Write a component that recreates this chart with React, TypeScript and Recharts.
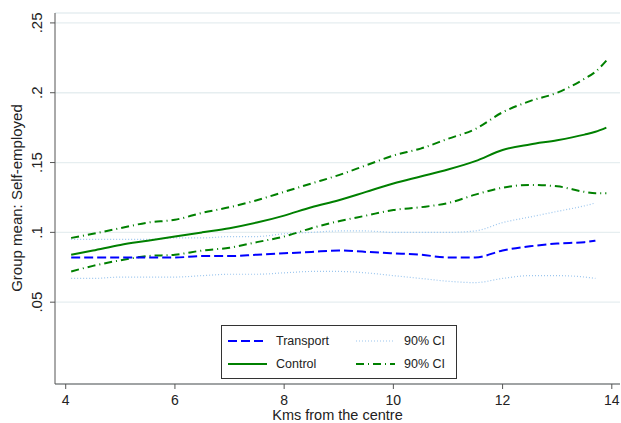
import React from 'react';
import { LineChart, Line, XAxis, YAxis, CartesianGrid, Label } from 'recharts';

// distance from centre (km) at which the smoothed means were read
const KMS = [4.1, 4.5, 5, 5.5, 6, 6.5, 7, 7.5, 8, 8.5, 9, 9.5, 10, 10.5, 11, 11.5, 12, 12.5, 13, 13.5, 13.7, 13.9];

const TRANSPORT = [0.082, 0.082, 0.082, 0.082, 0.082, 0.083, 0.083, 0.084, 0.085, 0.086, 0.087, 0.086, 0.085, 0.084, 0.082, 0.082, 0.087, 0.09, 0.092, 0.093, 0.094, null];
const TRANSPORT_HI = [0.095, 0.095, 0.095, 0.095, 0.096, 0.096, 0.097, 0.097, 0.099, 0.1, 0.101, 0.101, 0.1, 0.1, 0.1, 0.101, 0.107, 0.111, 0.115, 0.119, 0.121, null];
const TRANSPORT_LO = [0.067, 0.067, 0.068, 0.068, 0.068, 0.069, 0.07, 0.07, 0.071, 0.072, 0.072, 0.071, 0.069, 0.067, 0.065, 0.064, 0.067, 0.069, 0.069, 0.068, 0.067, null];

const CONTROL = [0.084, 0.087, 0.091, 0.094, 0.097, 0.1, 0.103, 0.107, 0.112, 0.118, 0.123, 0.129, 0.135, 0.14, 0.145, 0.151, 0.159, 0.163, 0.166, 0.17, 0.172, 0.175];
const CONTROL_HI = [0.096, 0.099, 0.103, 0.107, 0.109, 0.114, 0.118, 0.123, 0.129, 0.135, 0.141, 0.148, 0.155, 0.16, 0.167, 0.174, 0.186, 0.194, 0.2, 0.21, 0.215, 0.223];
const CONTROL_LO = [0.072, 0.076, 0.08, 0.083, 0.084, 0.087, 0.089, 0.093, 0.097, 0.103, 0.108, 0.112, 0.116, 0.118, 0.121, 0.127, 0.132, 0.134, 0.133, 0.129, 0.128, 0.128];

const X_TICKS = [4, 6, 8, 10, 12, 14];
const Y_TICKS = [0.05, 0.1, 0.15, 0.2, 0.25];
const Y_TICK_LABELS = ['.05', '.1', '.15', '.2', '.25'];

const FONT = '"Liberation Sans", Arial, sans-serif';
const BLUE = '#0000ff';
const LTBLUE = '#9cc6ee';
const GREEN = '#008000';

const data = KMS.map((km, i) => ({
    km,
    transport: TRANSPORT[i],
    transportHi: TRANSPORT_HI[i],
    transportLo: TRANSPORT_LO[i],
    control: CONTROL[i],
    controlHi: CONTROL_HI[i],
    controlLo: CONTROL_LO[i],
}));

const LEGEND = [
    { label: 'Transport', color: BLUE, dash: '9 4', width: 2, col: 0, row: 0 },
    { label: '90% CI', color: LTBLUE, dash: '1 2', width: 1.2, col: 1, row: 0 },
    { label: 'Control', color: GREEN, dash: undefined, width: 2, col: 0, row: 1 },
    { label: '90% CI', color: GREEN, dash: '8 4 1 4', width: 2, col: 1, row: 1 },
];

const YTick = (props: any) => {
    const { y, payload } = props;
    const idx = Y_TICKS.indexOf(payload.value);
    const text = idx >= 0 ? Y_TICK_LABELS[idx] : String(payload.value);
    return (
        <text x={42} y={y} transform={`rotate(-90 42 ${y})`} textAnchor="middle"
            fontSize={15} fontFamily={FONT} fill="#222">{text}</text>
    );
};

const Legend = () => (
    <svg width={236} height={54} style={{ position: 'absolute', left: 221, top: 325 }}>
        <rect x={0.5} y={0.5} width={235} height={53} fill="#fff" stroke="#333" />
        {LEGEND.map((item, i) => {
            const x0 = item.col === 0 ? 7 : 135;
            const cy = item.row === 0 ? 16 : 39;
            return (
                <g key={i}>
                    <line x1={x0} x2={x0 + 39} y1={cy} y2={cy} stroke={item.color}
                        strokeWidth={item.width} strokeDasharray={item.dash} />
                    <text x={x0 + 48} y={cy} dy="0.35em" fontSize={12.5} fontFamily={FONT} fill="#222">
                        {item.label}
                    </text>
                </g>
            );
        })}
    </svg>
);

export default function App() {
    return (
        <div style={{ position: 'absolute', left: 0, top: 0, width: 621, height: 423, background: '#fff' }}>
            <LineChart width={621} height={423} data={data}
                margin={{ top: 13, right: 1, bottom: 0, left: 0 }}>
                <CartesianGrid vertical={false} stroke="#e6eef0" strokeWidth={1.3} />
                <XAxis dataKey="km" type="number" domain={[3.804, 14.15]} ticks={X_TICKS}
                    allowDataOverflow height={39} stroke="#555" tickSize={5} tickMargin={6}
                    tick={{ fontSize: 14, fontFamily: FONT, fill: '#222' }}>
                    <Label value="Kms from the centre" position="insideBottom" offset={3}
                        style={{ fontSize: 14.5, fontFamily: FONT, fill: '#222' }} />
                </XAxis>
                <YAxis type="number" domain={[-0.0086, 0.2571]} ticks={Y_TICKS} allowDataOverflow
                    width={55} stroke="#555" tickSize={5} tick={<YTick />}>
                    <Label content={() => (
                        <text x={22} y={198} transform="rotate(-90 22 198)" textAnchor="middle"
                            fontSize={15} fontFamily={FONT} fill="#222">Group mean: Self-employed</text>
                    )} />
                </YAxis>
                <Line dataKey="transportLo" type="monotone" stroke={LTBLUE} strokeWidth={1.2}
                    strokeDasharray="1 2" dot={false} isAnimationActive={false} />
                <Line dataKey="transportHi" type="monotone" stroke={LTBLUE} strokeWidth={1.2}
                    strokeDasharray="1 2" dot={false} isAnimationActive={false} />
                <Line dataKey="controlLo" type="monotone" stroke={GREEN} strokeWidth={2}
                    strokeDasharray="8 4 1 4" dot={false} isAnimationActive={false} />
                <Line dataKey="controlHi" type="monotone" stroke={GREEN} strokeWidth={2}
                    strokeDasharray="8 4 1 4" dot={false} isAnimationActive={false} />
                <Line dataKey="transport" type="monotone" stroke={BLUE} strokeWidth={2}
                    strokeDasharray="9 4" dot={false} isAnimationActive={false} />
                <Line dataKey="control" type="monotone" stroke={GREEN} strokeWidth={2}
                    dot={false} isAnimationActive={false} />
            </LineChart>
            <Legend />
        </div>
    );
}
